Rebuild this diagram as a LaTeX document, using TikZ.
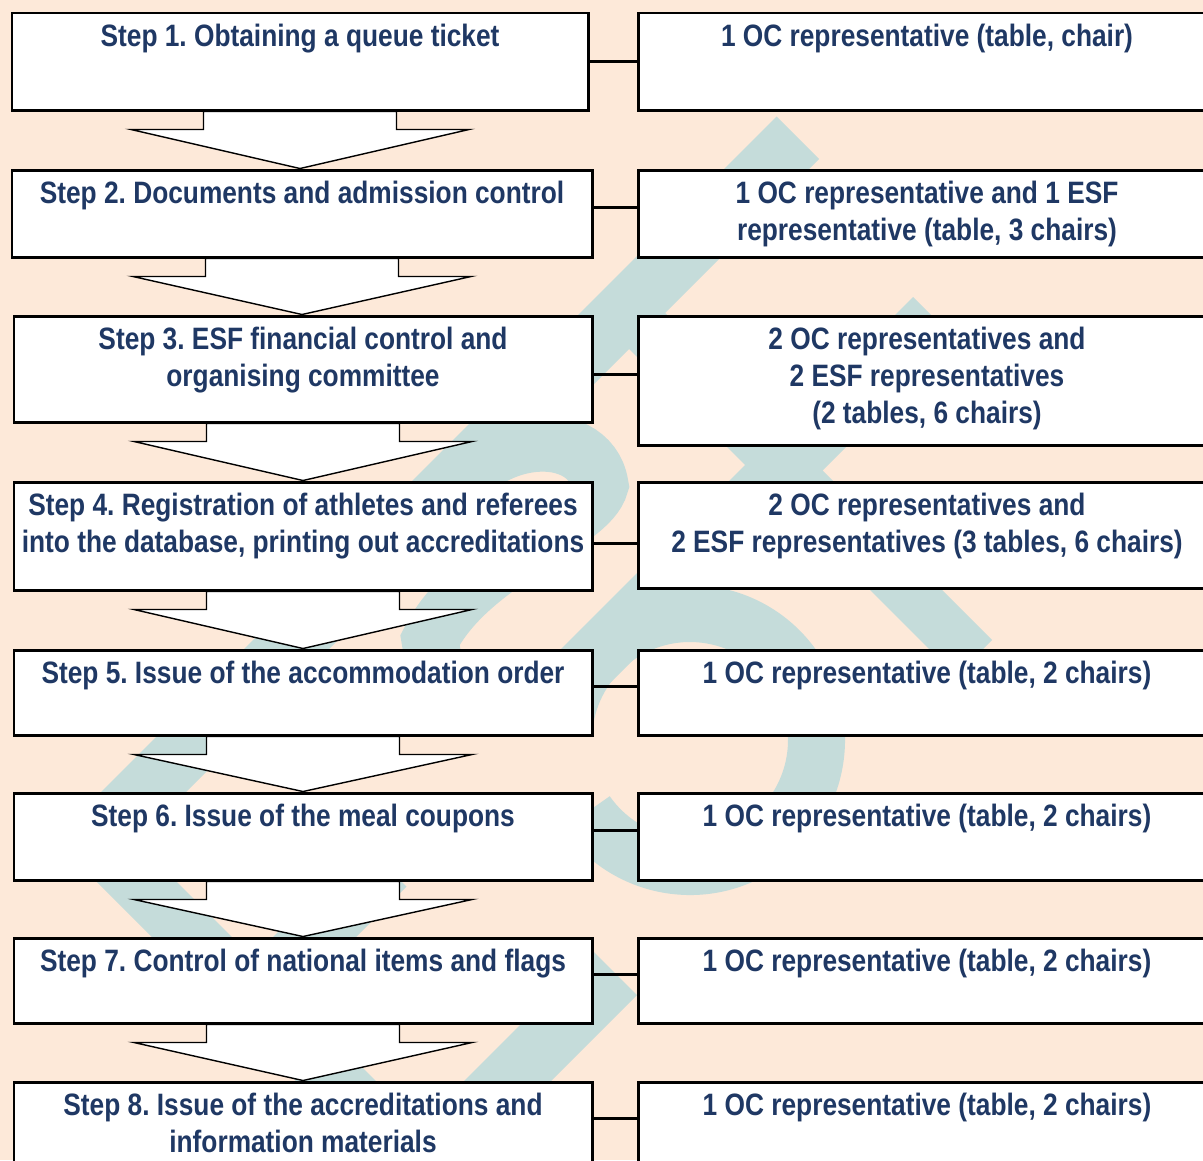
\documentclass[tikz,border=0pt]{standalone}
\usepackage{fontspec}
\newfontfamily\narrowsans{Liberation Sans}[FakeStretch=0.85]
\usetikzlibrary{calc}
\frenchspacing

\definecolor{peach}{HTML}{FDE9D9}
\definecolor{esfteal}{HTML}{C5DCDA}
\definecolor{navy}{HTML}{1F3864}

\begin{document}
\begin{tikzpicture}[
  x=0.2mm, y=-0.2mm,
  stepbox/.style = {draw, line width=1.7pt, fill=white, inner sep=0pt, minimum width=115.6mm},
  boxtext/.style = {anchor=north, align=center, inner xsep=0pt, inner ysep=2.4mm, text=navy,
                    font=\narrowsans\bfseries\fontsize{17.6}{21}\selectfont},
  link/.style    = {line width=1.7pt},
  flow/.style    = {draw, fill=white, line width=0.8pt, line join=miter},
  band/.style    = {fill=esfteal}
]

% page
\fill[peach] (0,0) rectangle (1203,1160);
\useasboundingbox (0,0) rectangle (1203,1160);

%--------------------------------------------------
% watermark (logo behind the chart)
%--------------------------------------------------
\fill[band] (776.5,116.5) -- (819,159) -- (136.5,841.5) -- (495,1200) -- (415,1200) -- (54,839) -- cycle;
\fill[band] (586.5,306.5) -- (665,313) -- (992,640) -- (956,676) -- cycle;
\fill[band] (913,297) -- (954.5,338.5) -- (566.5,726.5) -- (525,685) -- cycle;
\fill[band] (365,845) -- (406.5,886.5) -- (274,1019) -- (232.5,977.5) -- cycle;
\fill[band] (581,939) -- (637,995) -- (432,1200) -- (345,1200) -- (550,995) -- (537.5,982.5) -- cycle;
\fill[band] (690,740) ++(190:155) arc[start angle=190, end angle=505, radius=155]
  -- ($(690,740)+(505:98)$) arc[start angle=505, end angle=190, radius=98] -- cycle;
\draw[esfteal, line width=11.4mm] (440,520) .. controls (470,430) and (590,420) .. (600,485)
  .. controls (590,525) and (470,560) .. (430,640) -- (440,700);

%--------------------------------------------------
% steps (left column)
%--------------------------------------------------
\node[stepbox, minimum width=115.2mm, minimum height=19.4mm] (step1) at (300,61.5) {};
\node[stepbox, minimum width=116mm, minimum height=17.4mm] (step2) at (302,213.5) {};
\node[stepbox, minimum height=21.2mm] (step3) at (303,369) {};
\node[stepbox, minimum height=21.6mm] (step4) at (303,536) {};
\node[stepbox, minimum height=17mm] (step5) at (303,692.5) {};
\node[stepbox, minimum height=17.4mm] (step6) at (303,836.5) {};
\node[stepbox, minimum height=17mm] (step7) at (303,980.5) {};
\node[stepbox, minimum height=17.2mm] (step8) at (303,1125) {};

\node[boxtext] (step1t) at (step1.north) {Step 1. Obtaining a queue ticket};
\node[boxtext] (step2t) at (step2.north) {Step 2. Documents and admission control};
\node[boxtext] (step3t) at (step3.north) {Step 3. ESF financial control and\\organising committee};
\node[boxtext] (step4t) at (step4.north) {Step 4. Registration of athletes and referees\\into the database, printing out accreditations};
\node[boxtext] (step5t) at (step5.north) {Step 5. Issue of the accommodation order};
\node[boxtext] (step6t) at (step6.north) {Step 6. Issue of the meal coupons};
\node[boxtext] (step7t) at (step7.north) {Step 7. Control of national items and flags};
\node[boxtext] (step8t) at (step8.north) {Step 8. Issue of the accreditations and\\information materials};

%--------------------------------------------------
% staff per step (right column)
%--------------------------------------------------
\node[stepbox, minimum height=19.4mm] (staff1) at (927,61.5) {};
\node[stepbox, minimum height=17.4mm] (staff2) at (927,213.5) {};
\node[stepbox, minimum height=25.8mm] (staff3) at (927,380.5) {};
\node[stepbox, minimum height=21.2mm] (staff4) at (927,535) {};
\node[stepbox, minimum height=17mm] (staff5) at (927,692.5) {};
\node[stepbox, minimum height=17.4mm] (staff6) at (927,836.5) {};
\node[stepbox, minimum height=17mm] (staff7) at (927,980.5) {};
\node[stepbox, minimum height=17.2mm] (staff8) at (927,1125) {};

\node[boxtext] (staff1t) at (staff1.north) {1 OC representative (table, chair)};
\node[boxtext] (staff2t) at (staff2.north) {1 OC representative and 1 ESF\\representative (table, 3 chairs)};
\node[boxtext] (staff3t) at (staff3.north) {2 OC representatives and\\2 ESF representatives\\(2 tables, 6 chairs)};
\node[boxtext] (staff4t) at (staff4.north) {2 OC representatives and\\2 ESF representatives (3 tables, 6 chairs)};
\node[boxtext] (staff5t) at (staff5.north) {1 OC representative (table, 2 chairs)};
\node[boxtext] (staff6t) at (staff6.north) {1 OC representative (table, 2 chairs)};
\node[boxtext] (staff7t) at (staff7.north) {1 OC representative (table, 2 chairs)};
\node[boxtext] (staff8t) at (staff8.north) {1 OC representative (table, 2 chairs)};

%--------------------------------------------------
% connections
%--------------------------------------------------
% step -- staff (lines sit a little off the box middles)
\foreach \i/\dy in {1/0, 2/-6, 3/5, 4/7, 5/-6, 6/-6, 7/-6, 8/-7}
  \draw[link] ($(step\i.east)+(0,\dy)$) -- ($(step\i.east -| staff\i.west)+(0,\dy)$);

% block arrows between steps
\foreach \a/\b in {1/2, 2/3, 3/4, 4/5, 5/6, 6/7, 7/8}
  \draw[flow] ($(step\a.south)+(-96.5,0)$) -- ++(0,18) -- ++(-72.5,0)
    -- (step\a.south |- step\b.north)
    -- ($(step\a.south)+(169,18)$) -- ++(-72.5,0) -- ++(0,-18) -- cycle;

\end{tikzpicture}
\end{document}
